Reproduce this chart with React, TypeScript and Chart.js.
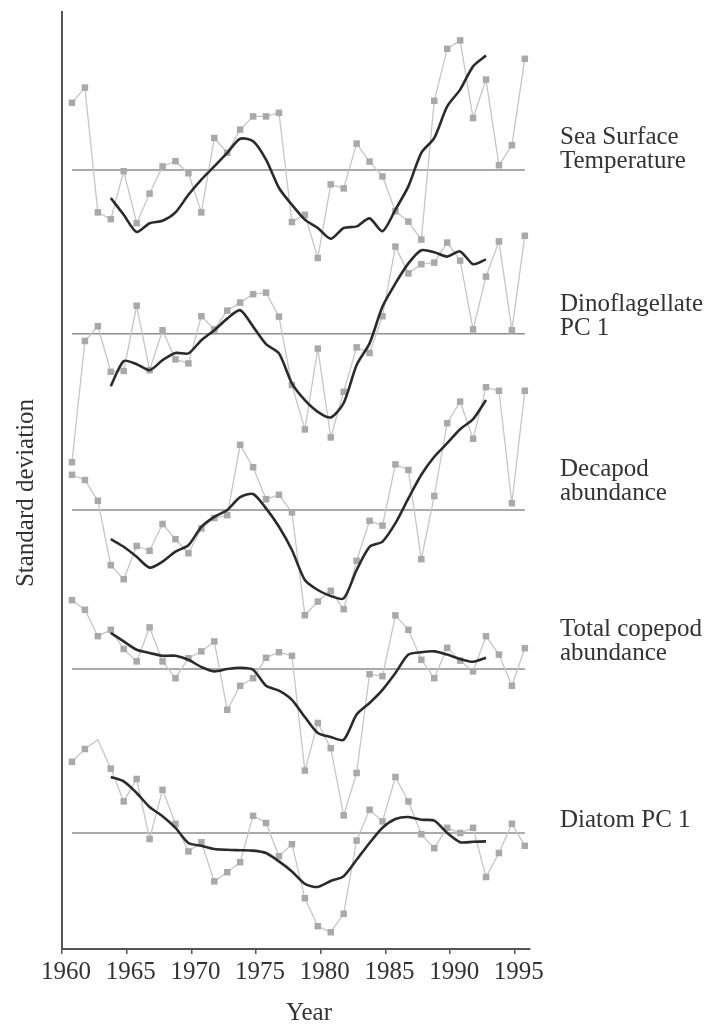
import { useEffect, useRef } from "react";
import { Chart, registerables } from "chart.js";

Chart.register(...registerables);

// Survey years (annual values) and the years covered by the running mean
const YEARS = [
  1960, 1961, 1962, 1963, 1964, 1965, 1966, 1967, 1968, 1969, 1970, 1971,
  1972, 1973, 1974, 1975, 1976, 1977, 1978, 1979, 1980, 1981, 1982, 1983,
  1984, 1985, 1986, 1987, 1988, 1989, 1990, 1991, 1992, 1993, 1994, 1995,
];
const SMOOTH_YEARS = [
  1963, 1964, 1965, 1966, 1967, 1968, 1969, 1970, 1971, 1972, 1973, 1974,
  1975, 1976, 1977, 1978, 1979, 1980, 1981, 1982, 1983, 1984, 1985, 1986,
  1987, 1988, 1989, 1990, 1991, 1992,
];
const TICK_YEARS = [1960, 1965, 1970, 1975, 1980, 1985, 1990, 1995];

// Annual anomalies (standard deviations)
const SST = [
  1.68, 2.06, -1.06, -1.23, -0.03, -1.33, -0.59, 0.09, 0.22, -0.08, -1.06, 0.8,
  0.43, 1.01, 1.34, 1.34, 1.43, -1.3, -1.12, -2.2, -0.36, -0.46, 0.66, 0.21,
  -0.16, -1.03, -1.29, -1.74, 1.73, 3.03, 3.24, 1.3, 2.26, 0.12, 0.62, 2.78,
];
const DINO = [
  -3.21, -0.18, 0.19, -0.95, -0.93, 0.7, -0.91, 0.09, -0.64, -0.74, 0.44, 0.11,
  0.58, 0.78, 0.99, 1.03, 0.43, -1.28, -2.39, -0.37, -2.59, -1.45, -0.34, -0.48,
  0.44, 2.18, 1.51, 1.74, 1.78, 2.28, 1.83, 0.11, 1.43, 2.31, 0.09, 2.45,
];
const DECAPOD = [
  0.88, 0.75, 0.23, -1.38, -1.73, -0.9, -1.02, -0.35, -0.73, -1.08, -0.46, -0.2,
  -0.13, 1.63, 1.07, 0.27, 0.38, -0.06, -2.63, -2.29, -2.02, -2.48, -1.27, -0.27,
  -0.39, 1.14, 1.0, -1.23, 0.35, 2.17, 2.71, 1.78, 3.07, 2.98, 0.17, 2.98,
];
const COPEPOD = [
  1.72, 1.48, 0.82, 0.98, 0.5, 0.19, 1.04, 0.19, -0.23, 0.27, 0.44, 0.69,
  -1.02, -0.42, -0.23, 0.28, 0.42, 0.33, -2.54, -1.35, -1.98, -3.66, -2.6, -0.13,
  -0.18, 1.34, 0.98, 0.23, -0.23, 0.53, 0.21, -0.06, 0.82, 0.36, -0.42, 0.52,
];
const DIATOM = [
  1.78, 2.1, 2.33, 1.61, 0.79, 1.35, -0.15, 1.08, 0.23, -0.46, -0.23, -1.21,
  -0.98, -0.73, 0.43, 0.25, -0.58, -0.28, -1.63, -2.33, -2.48, -2.02, -0.19, 0.58,
  0.29, 1.4, 0.79, -0.03, -0.38, 0.13, 0.0, 0.13, -1.1, -0.5, 0.23, -0.32,
];

// Running means
const SST_SMOOTH = [
  -0.7, -1.12, -1.55, -1.33, -1.27, -1.06, -0.62, -0.24, 0.09, 0.43, 0.78, 0.72,
  0.26, -0.45, -0.87, -1.24, -1.45, -1.72, -1.45, -1.41, -1.21, -1.53, -0.99,
  -0.41, 0.43, 0.8, 1.59, 2.01, 2.59, 2.86,
];
const DINO_SMOOTH = [
  -1.31, -0.68, -0.76, -0.91, -0.66, -0.48, -0.49, -0.16, 0.09, 0.38, 0.59, 0.18,
  -0.26, -0.49, -1.24, -1.66, -1.95, -2.09, -1.73, -0.78, -0.24, 0.68, 1.26,
  1.76, 2.09, 2.04, 1.93, 2.06, 1.74, 1.86,
];
const DECAPOD_SMOOTH = [
  -0.73, -0.92, -1.17, -1.44, -1.29, -1.04, -0.88, -0.42, -0.17, 0.0, 0.32, 0.4,
  0.04, -0.42, -1.0, -1.75, -2.0, -2.15, -2.21, -1.5, -0.92, -0.79, -0.33, 0.29,
  0.88, 1.33, 1.67, 2.02, 2.27, 2.75,
];
const COPEPOD_SMOOTH = [
  0.9, 0.69, 0.48, 0.4, 0.33, 0.33, 0.23, 0.05, -0.06, 0.0, 0.03, -0.02, -0.42,
  -0.54, -0.77, -1.2, -1.6, -1.7, -1.77, -1.14, -0.85, -0.52, -0.1, 0.36, 0.42,
  0.44, 0.36, 0.25, 0.18, 0.28,
];
const DIATOM_SMOOTH = [
  1.4, 1.29, 1.0, 0.65, 0.42, 0.13, -0.25, -0.32, -0.4, -0.42, -0.43, -0.44,
  -0.5, -0.71, -0.96, -1.27, -1.35, -1.2, -1.08, -0.67, -0.25, 0.13, 0.35, 0.4,
  0.33, 0.31, 0.0, -0.23, -0.22, -0.21,
];

const SERIES_LABELS = [
  ["Sea Surface", "Temperature"],
  ["Dinoflagellate", "PC 1"],
  ["Decapod", "abundance"],
  ["Total copepod", "abundance"],
  ["Diatom PC 1"],
];

// Layout: vertical stacking offset of each panel and its label shift (px)
const PANEL_OFFSETS = [19.475, 15.38, 10.975, 7.0, 2.9];
const LABEL_SHIFT = [-2, 1, -10, -9, -6];
const X_SHIFT = 0.77;
const FONT = "'Liberation Serif', 'Times New Roman', Times, serif";
const TEXT = "#333333";

const SERIES = [
  { raw: SST, smooth: SST_SMOOTH, hidden: [] as number[] },
  { raw: DINO, smooth: DINO_SMOOTH, hidden: [] as number[] },
  { raw: DECAPOD, smooth: DECAPOD_SMOOTH, hidden: [] as number[] },
  { raw: COPEPOD, smooth: COPEPOD_SMOOTH, hidden: [] as number[] },
  { raw: DIATOM, smooth: DIATOM_SMOOTH, hidden: [1962] },
];

const labelPlugin = {
  id: "panelText",
  afterDraw(chart: any) {
    const { ctx } = chart;
    const y = chart.scales.y;
    ctx.save();
    ctx.fillStyle = TEXT;
    ctx.font = `25px ${FONT}`;
    ctx.textBaseline = "alphabetic";
    ctx.textAlign = "left";
    SERIES_LABELS.forEach((lines, i) => {
      const last = y.getPixelForValue(PANEL_OFFSETS[i]) + LABEL_SHIFT[i];
      lines.forEach((line, j) => {
        ctx.fillText(line, 560, last - (lines.length - 1 - j) * 24);
      });
    });
    // axis titles
    ctx.textAlign = "center";
    ctx.fillText("Year", 309, 1020);
    ctx.translate(33, 493);
    ctx.rotate(-Math.PI / 2);
    ctx.fillText("Standard deviation", 0, 0);
    ctx.restore();
  },
};

function buildDatasets() {
  const sets: any[] = [];
  SERIES.forEach((s, i) => {
    const off = PANEL_OFFSETS[i];
    sets.push({
      data: SMOOTH_YEARS.map((yr, k) => ({ x: yr + X_SHIFT, y: s.smooth[k] + off })),
      borderColor: "#2b2b2b",
      borderWidth: 2.6,
      pointRadius: 0,
      tension: 0.25,
      order: 1,
    });
    sets.push({
      data: YEARS.map((yr, k) => ({ x: yr + X_SHIFT, y: s.raw[k] + off })),
      borderColor: "#c6c6c6",
      borderWidth: 1.3,
      pointStyle: "rect",
      pointRadius: YEARS.map((yr) => (s.hidden.includes(yr) ? 0 : 4.6)),
      pointBackgroundColor: "#a9a9a9",
      pointBorderWidth: 0,
      tension: 0,
      order: 2,
    });
    sets.push({
      data: [
        { x: YEARS[0] + X_SHIFT, y: off },
        { x: YEARS[YEARS.length - 1] + X_SHIFT, y: off },
      ],
      borderColor: "#8e8e8e",
      borderWidth: 1.5,
      pointRadius: 0,
      order: 3,
    });
  });
  return sets;
}

export default function App() {
  const ref = useRef<HTMLCanvasElement>(null);

  useEffect(() => {
    const canvas = ref.current;
    if (!canvas) return;
    const chart = new Chart(canvas, {
      type: "line",
      data: { datasets: buildDatasets() },
      options: {
        responsive: false,
        animation: false,
        layout: { padding: { top: 12, right: 180, left: 0, bottom: 0 } },
        plugins: { legend: { display: false }, tooltip: { enabled: false } },
        scales: {
          x: {
            type: "linear",
            min: 1960,
            max: 1996.17,
            afterBuildTicks: (s: any) => {
              s.ticks = TICK_YEARS.map((v) => ({ value: v }));
            },
            afterFit: (s: any) => {
              s.height = 77;
            },
            grid: {
              drawOnChartArea: false,
              drawTicks: true,
              tickLength: 5,
              color: "#555555",
              lineWidth: 1.5,
            },
            border: { display: true, color: "#555555", width: 2 },
            ticks: {
              font: { family: FONT, size: 25 },
              color: TEXT,
              padding: 3,
              labelOffset: 4,
              maxRotation: 0,
              autoSkip: false,
              callback: (v: any) => String(v),
            },
          },
          y: {
            type: "linear",
            min: 0,
            max: 23.425,
            afterFit: (s: any) => {
              s.width = 62;
            },
            grid: { drawOnChartArea: false, drawTicks: false },
            border: { display: true, color: "#555555", width: 2 },
            ticks: { display: false },
          },
        },
      },
      plugins: [labelPlugin],
    });
    return () => chart.destroy();
  }, []);

  return (
    <div style={{ position: "absolute", left: 0, top: 0, width: 710, height: 1026, background: "#fff" }}>
      <canvas ref={ref} width={710} height={1026} style={{ display: "block" }} />
    </div>
  );
}
